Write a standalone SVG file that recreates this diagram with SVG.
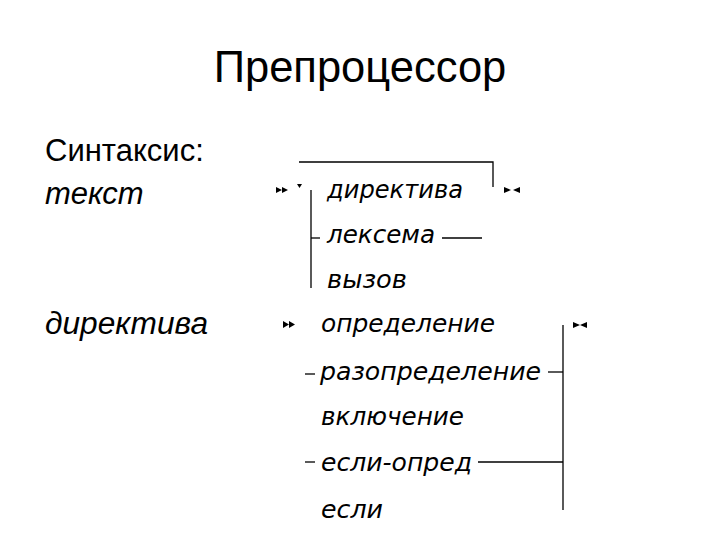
<svg xmlns="http://www.w3.org/2000/svg" width="720" height="540" viewBox="0 0 720 540">
<style>
.title{font-family:"Liberation Sans",Arial,sans-serif;font-size:43.5px;fill:#000}
.lbl{font-family:"Liberation Sans",Arial,sans-serif;font-size:31px;fill:#000}
.it{font-style:italic}
.alt{font-family:"DejaVu Sans","Liberation Sans",sans-serif;font-style:oblique;font-size:25px;fill:#000}
.ln{stroke:#000;stroke-width:1.3;fill:none}
.mk{fill:#000}
</style>
<rect width="720" height="540" fill="#fff"/>
<g id="title"><text class="title" x="360" y="82" text-anchor="middle">Препроцессор</text></g>
<g id="syntax"><text class="lbl" x="45" y="161">Синтаксис:</text></g>
<g id="tekst"><text class="lbl it" x="45" y="204">текст</text></g>
<g id="direktiva"><text class="lbl it" x="45" y="334" textLength="163" lengthAdjust="spacingAndGlyphs">директива</text></g>

<g id="alt1-direktiva"><text class="alt" x="327" y="198" textLength="136" lengthAdjust="spacingAndGlyphs">директива</text></g>
<g id="alt1-leksema"><text class="alt" x="327" y="243" textLength="108" lengthAdjust="spacingAndGlyphs">лексема</text></g>
<g id="alt1-vyzov"><text class="alt" x="327" y="288" textLength="80" lengthAdjust="spacingAndGlyphs">вызов</text></g>

<g id="alt2-opredelenie"><text class="alt" x="321" y="332" textLength="174" lengthAdjust="spacingAndGlyphs">определение</text></g>
<g id="alt2-razopredelenie"><text class="alt" x="320" y="380" textLength="221" lengthAdjust="spacingAndGlyphs">разопределение</text></g>
<g id="alt2-vkluchenie"><text class="alt" x="321" y="425" textLength="143" lengthAdjust="spacingAndGlyphs">включение</text></g>
<g id="alt2-esli-opred"><text class="alt" x="321" y="471" textLength="151" lengthAdjust="spacingAndGlyphs">если-опред</text></g>
<g id="alt2-esli"><text class="alt" x="321" y="518" textLength="62" lengthAdjust="spacingAndGlyphs">если</text></g>

<g id="connectors">
  <path class="ln" d="M299 162 H493 V187"/>
  <path class="ln" d="M311 190 V288"/>
  <path class="ln" d="M311 238 H320"/>
  <path class="ln" d="M442 238 H482"/>
  <path class="ln" d="M563 325 V510"/>
  <path class="ln" d="M305 374 H315"/>
  <path class="ln" d="M548 372 H563"/>
  <path class="ln" d="M305 462 H315"/>
  <path class="ln" d="M478 462 H563"/>
  <g class="mk">
    <polygon points="276,187 282,190 276,193"/>
    <polygon points="282,187 288,190 282,193"/>
    <polygon points="297,184 302,184 299.5,188"/>
    <polygon points="504,187 511,190 504,193"/>
    <polygon points="520,187 513,190 520,193"/>
    <polygon points="283,321 289,324.5 283,328"/>
    <polygon points="289,321 295,324.5 289,328"/>
    <polygon points="573,322 580,325 573,328"/>
    <polygon points="587,322 580,325 587,328"/>
  </g>
</g>
</svg>
